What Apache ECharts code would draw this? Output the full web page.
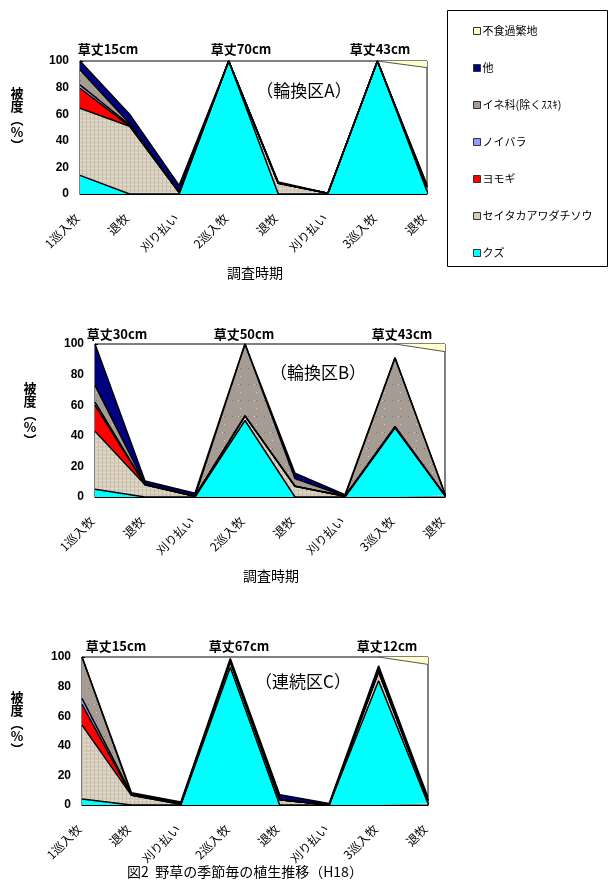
<!DOCTYPE html>
<html><head><meta charset="utf-8">
<script src="https://cdn.jsdelivr.net/npm/echarts@6/dist/echarts.min.js"></script>
<style>html,body{margin:0;padding:0;background:#fff}#c{width:609px;height:888px}</style>
</head><body><div id="c"></div>
<script>
// ---------- data ----------
const categories = ['1巡入牧','退牧','刈り払い','2巡入牧','退牧','刈り払い','3巡入牧','退牧'];
const seriesNames = ['クズ','セイタカアワダチソウ','ヨモギ','ノイバラ','イネ科(除くｽｽｷ)','他','不食過繁地'];

// 輪換区A
const kuzuA     = [14, 0, 0, 100, 0, 0, 100, 2];
const seitakaA  = [50.5, 51, 1, 0, 8, 0.5, 0, 3];
const yomogiA   = [15, 0, 0, 0, 0, 0, 0, 0];
const noibaraA  = [2.5, 1, 0, 0, 0, 0, 0, 0];
const ineA      = [11.5, 1, 0.5, 0, 0, 0, 0, 1];
const taA       = [6.5, 7, 5, 0, 1, 0, 0, 1];
const fushokuA  = [null, null, null, null, null, null, 0, 5];
const heightA   = ['草丈15cm','草丈70cm','草丈43cm'];

// 輪換区B
const kuzuB     = [5, 0, 0, 50, 0, 0, 45, 1];
const seitakaB  = [38, 8, 0.5, 3, 7, 0.5, 1, 0];
const yomogiB   = [17, 0, 0, 0, 0, 0, 0, 0];
const noibaraB  = [2, 0, 0, 0, 0, 0, 0, 0];
const ineB      = [11, 0.5, 0, 47, 5, 0, 45, 1];
const taB       = [27, 2, 2, 0, 3.5, 1, 0, 0];
const fushokuB  = [null, null, null, null, null, null, 0, 5];
const heightB   = ['草丈30cm','草丈50cm','草丈43cm'];

// 連続区C
const kuzuC     = [4, 0, 0, 93, 0, 0, 84, 1];
const seitakaC  = [50, 6.5, 0.5, 4, 3.5, 0, 6, 2];
const yomogiC   = [14, 0, 0, 0, 0, 0, 0, 0];
const noibaraC  = [4, 0.8, 0.5, 0, 0, 0, 0, 0];
const ineC      = [28, 0, 0, 0.5, 0, 0, 1, 0];
const taC       = [0, 1, 1, 1.5, 3.5, 1, 3, 2];
const fushokuC  = [null, null, null, null, null, null, 0, 5];
const heightC   = ['草丈15cm','草丈67cm','草丈12cm'];

const plotTitles = ['（輪換区A）','（輪換区B）','（連続区C）'];
const xAxisName = '調査時期';
const yAxisName = '被\n度\n︵\n%\n︶';
const caption = '図2  野草の季節毎の植生推移（H18）';

// ---------- styles ----------
const FONT = '"Noto Sans CJK JP", "Noto Sans CJK SC", sans-serif';
function texture(base, light, dark, kind) {
  const cv = document.createElement('canvas');
  cv.width = 16; cv.height = 16;
  const g = cv.getContext('2d');
  g.fillStyle = base; g.fillRect(0, 0, 16, 16);
  if (kind === 'weave') {
    g.fillStyle = light;
    for (let i = 0; i < 16; i += 4) { g.fillRect(0, i, 16, 1); }
    g.fillStyle = dark;
    for (let i = 2; i < 16; i += 4) { g.fillRect(i, 0, 1, 16); }
  } else {
    let s = 12345;
    for (let i = 0; i < 90; i++) {
      s = (s * 1103515245 + 12345) & 0x7fffffff; const x = s % 16;
      s = (s * 1103515245 + 12345) & 0x7fffffff; const y = s % 16;
      g.fillStyle = (i % 3 === 0) ? light : dark;
      g.fillRect(x, y, 1, 1);
    }
  }
  return cv;
}
const fills = {
  'クズ': '#00ffff',
  'セイタカアワダチソウ': {image: texture('#d6ccbc', '#e4ddd1', '#c8bdab', 'weave'), repeat: 'repeat'},
  'ヨモギ': '#ff0000',
  'ノイバラ': '#9999ff',
  'イネ科(除くｽｽｷ)': {image: texture('#a69c93', '#d6d0ca', '#7d7269', 'speckle'), repeat: 'repeat'},
  '他': '#000080',
  '不食過繁地': '#ffffcc'
};
const iconColors = {
  'クズ': '#00ffff', 'セイタカアワダチソウ': '#d6ccbc', 'ヨモギ': '#ff0000',
  'ノイバラ': '#9999ff', 'イネ科(除くｽｽｷ)': '#a69c93', '他': '#000080', '不食過繁地': '#ffffcc'
};

const grids = [
  {left: 80, top: 61, width: 347, height: 133},
  {left: 95, top: 344, width: 350, height: 153},
  {left: 82, top: 657, width: 346, height: 148}
];
const dataSets = [
  [kuzuA, seitakaA, yomogiA, noibaraA, ineA, taA, fushokuA],
  [kuzuB, seitakaB, yomogiB, noibaraB, ineB, taB, fushokuB],
  [kuzuC, seitakaC, yomogiC, noibaraC, ineC, taC, fushokuC]
];

const xAxes = [], yAxes = [], series = [];
grids.forEach((g, i) => {
  xAxes.push({
    gridIndex: i, type: 'category', boundaryGap: false, data: categories,
    axisLine: {lineStyle: {color: '#000', width: 1}},
    axisTick: {inside: true, length: 3, lineStyle: {color: '#000'}},
    axisLabel: {rotate: 45, fontSize: 12, color: '#000', fontFamily: FONT, margin: 19, padding: [0, 4, 0, 0], interval: 0}
  });
  yAxes.push({
    gridIndex: i, type: 'value', min: 0, max: 100, interval: 20,
    axisLine: {show: true, lineStyle: {color: '#000', width: 1}},
    axisTick: {show: true, inside: true, length: 3, lineStyle: {color: '#000'}},
    axisLabel: {fontSize: 12, fontWeight: 'bold', color: '#000', fontFamily: 'Arial, "Liberation Sans", sans-serif', margin: 11},
    splitLine: {show: false}
  });
  yAxes.push({gridIndex: i, type: 'value', min: 0, max: 100, inverse: true, show: false, splitLine: {show: false}});
  const ds = dataSets[i];
  for (let k = 0; k < 6; k++) {
    series.push({
      name: seriesNames[k], type: 'line', xAxisIndex: i, yAxisIndex: i * 2,
      stack: 'S' + i, data: ds[k], symbol: 'none', silent: true,
      lineStyle: {color: '#000', width: 1.5},
      itemStyle: {color: iconColors[seriesNames[k]]},
      areaStyle: {color: fills[seriesNames[k]], opacity: 1}
    });
  }
  series.push({
    name: seriesNames[6], type: 'line', xAxisIndex: i, yAxisIndex: i * 2 + 1,
    data: ds[6], symbol: 'none', silent: true,
    lineStyle: {color: '#555', width: 1},
    itemStyle: {color: '#ffffcc'},
    areaStyle: {color: '#ffffcc', opacity: 1, origin: 'start'}
  });
});

const legendOrder = ['不食過繁地','他','イネ科(除くｽｽｷ)','ノイバラ','ヨモギ','セイタカアワダチソウ','クズ'];

function txt(x, y, text, size, weight, extra) {
  return {
    type: 'text', x: x, y: y, silent: true,
    style: Object.assign({text: text, fontSize: size, fontWeight: weight || 'normal', fontFamily: FONT,
      fill: '#000', align: 'center', verticalAlign: 'middle'}, extra || {})
  };
}
const heightSets = [heightA, heightB, heightC];
const heightPos = [
  {y: 49, xs: [108, 241, 380]},
  {y: 334, xs: [117, 244, 402]},
  {y: 646, xs: [116, 239, 387]}
];
const titlePos = [[304, 91], [318, 373], [303, 682]];
const yNamePos = [[17, 119], [30, 414], [17, 723]];

const graphics = [];
heightSets.forEach((hs, i) => {
  hs.forEach((t, j) => graphics.push(txt(heightPos[i].xs[j], heightPos[i].y, t, 13, 'bold')));
  graphics.push(txt(titlePos[i][0], titlePos[i][1], plotTitles[i], 17, 'normal'));
  graphics.push(txt(yNamePos[i][0], yNamePos[i][1], yAxisName, 13, 'bold', {lineHeight: 13}));
});
graphics.push(txt(255, 273, xAxisName, 14, 'normal'));
graphics.push(txt(271, 576, xAxisName, 14, 'normal'));
graphics.push(txt(245, 872, caption, 14, 'normal'));
graphics.push(txt(250, 403, 'ヨモギ', 8, 'normal', {fill: '#ffffff'}));
graphics.push({type: 'rect', silent: true, shape: {x: 447.5, y: 10.5, width: 160, height: 256},
  style: {fill: 'none', stroke: '#000', lineWidth: 1}, z: 0});

const chart = echarts.init(document.getElementById('c'), null, {renderer: 'canvas'});
chart.setOption({
  animation: false,
  backgroundColor: '#fff',
  textStyle: {fontFamily: FONT},
  grid: grids.map(g => Object.assign({show: true, borderColor: '#000', borderWidth: 1, backgroundColor: 'transparent'}, g)),
  xAxis: xAxes,
  yAxis: yAxes,
  legend: {
    orient: 'vertical', left: 468, top: 20, itemGap: 25, itemWidth: 7, itemHeight: 7,
    icon: 'rect', selectedMode: false,
    textStyle: {fontSize: 11, color: '#000', fontFamily: FONT, lineHeight: 12, padding: [0, 0, 0, -3]},
    data: legendOrder.map(n => ({name: n, itemStyle: {color: iconColors[n], borderColor: '#333', borderWidth: 1}}))
  },
  graphic: graphics,
  series: series
});
</script>
</body></html>
